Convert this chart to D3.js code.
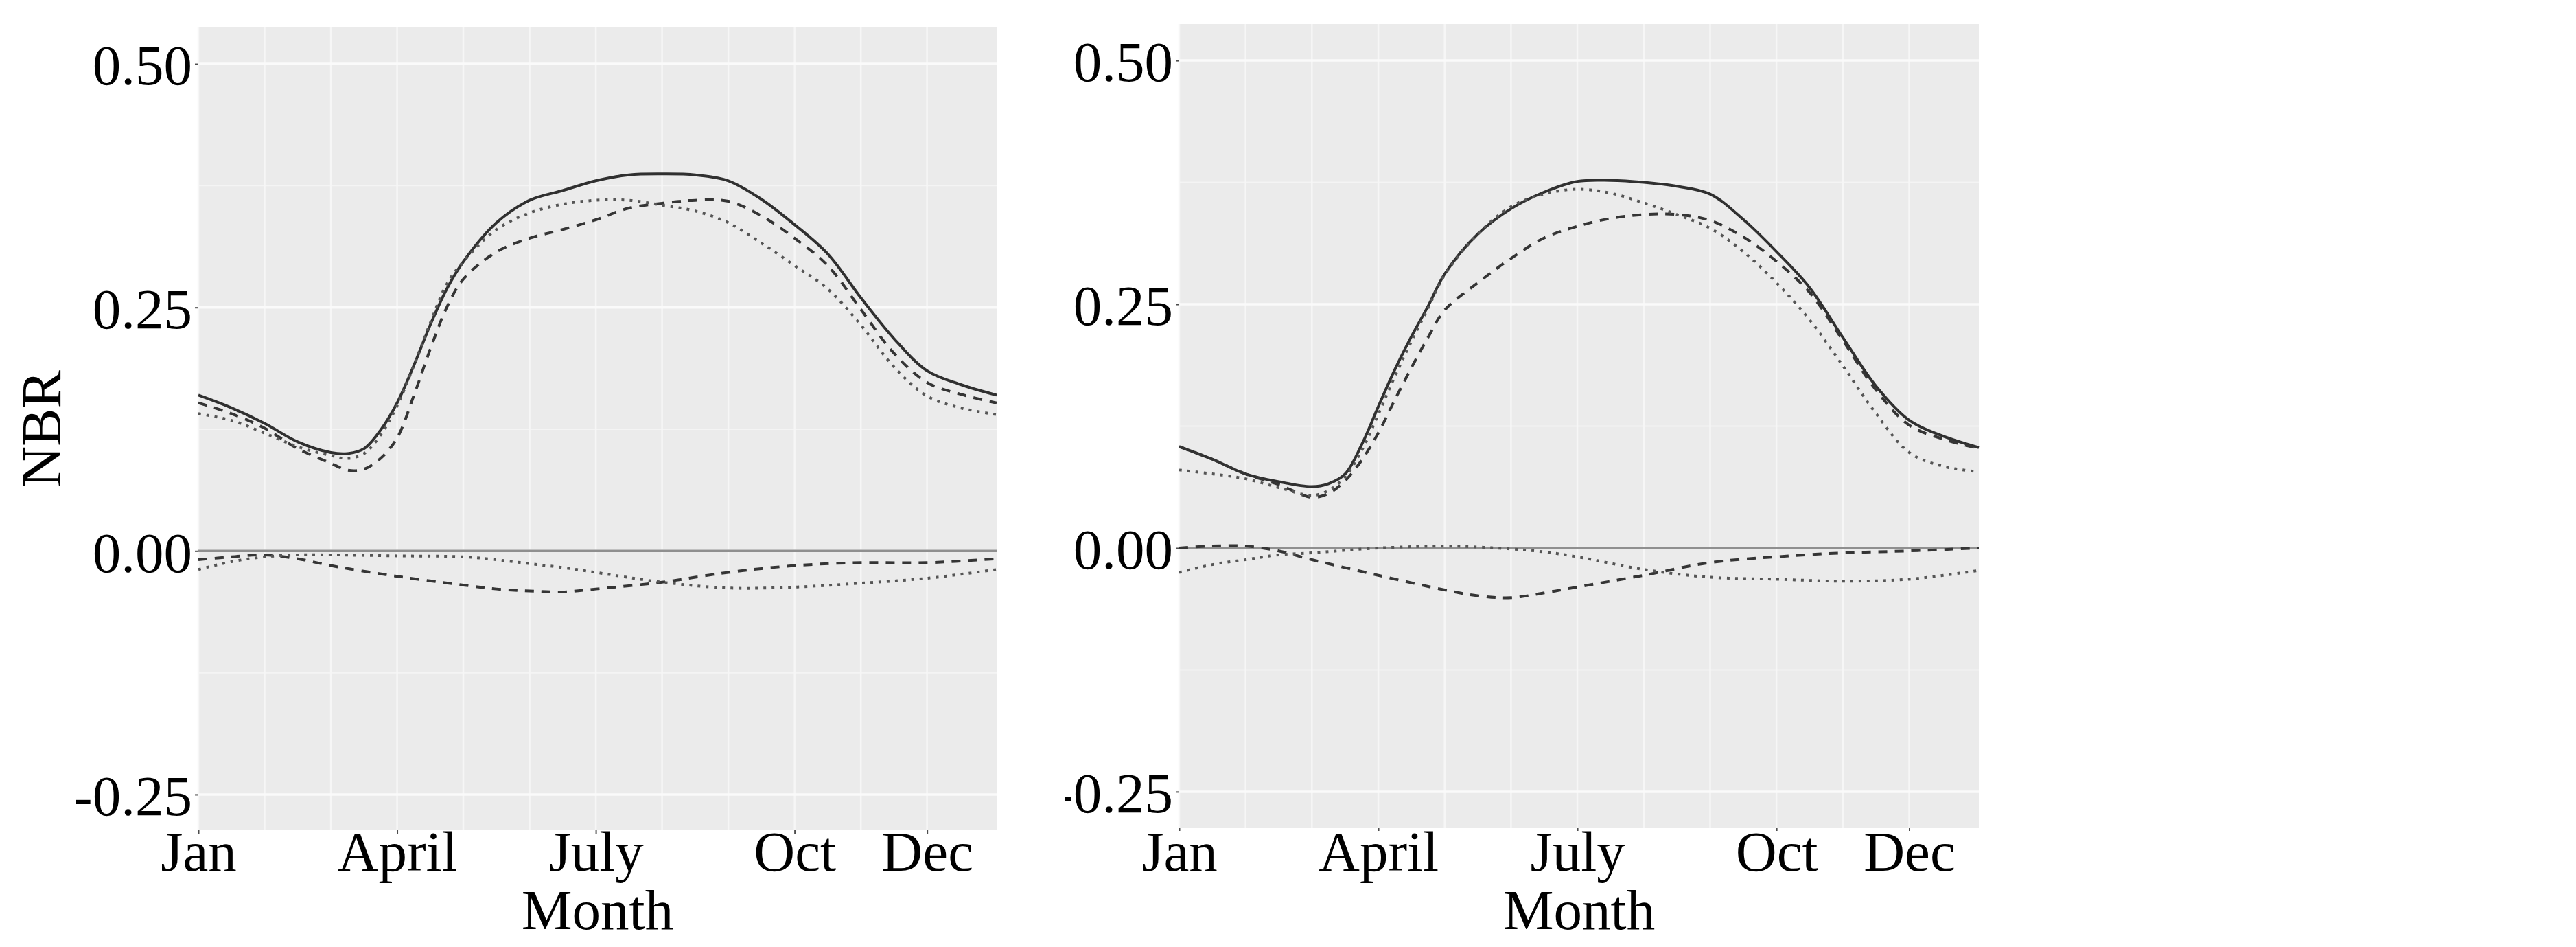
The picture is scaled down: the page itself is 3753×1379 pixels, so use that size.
<!doctype html>
<html>
  <head>
    <meta charset="utf-8">
    <title>NBR by month</title>
    <script src="https://cdnjs.cloudflare.com/ajax/libs/d3/7.8.5/d3.min.js"></script>
    <style>
      body { margin: 0; background: #fff; }
      svg text { font-family: "Liberation Serif", "Times New Roman", serif; fill: #000; }
    </style>
  </head>
  <body>
    <div id="chart"></div>
    <script>
      const months = [1, 1.5, 2, 2.5, 3, 3.25, 3.5, 3.75, 4, 4.25, 4.5, 4.75, 5, 5.5, 6, 6.5,
                      7, 7.5, 8, 8.5, 9, 9.5, 10, 10.5, 11, 11.5, 12, 12.5, 13.05];
      const diffMonths = [1, 1.5, 2, 2.5, 3, 4, 5, 5.5, 6, 6.5, 7, 8, 9, 10, 11, 12, 13.05];

      // left panel
      const leftSolid = [0.160, 0.147, 0.131, 0.112, 0.101, 0.100, 0.105, 0.124, 0.152, 0.190, 0.232, 0.269, 0.297, 0.337, 0.360, 0.370,
                         0.380, 0.386, 0.387, 0.386, 0.380, 0.361, 0.335, 0.305, 0.260, 0.218, 0.185, 0.171, 0.160];
      const leftDashed = [0.152, 0.141, 0.126, 0.105, 0.090, 0.083, 0.084, 0.095, 0.116, 0.159, 0.207, 0.250, 0.279, 0.307, 0.321, 0.330,
                          0.340, 0.352, 0.357, 0.360, 0.359, 0.344, 0.321, 0.293, 0.248, 0.203, 0.173, 0.161, 0.152];
      const leftDotted = [0.141, 0.134, 0.121, 0.107, 0.098, 0.095, 0.100, 0.119, 0.149, 0.190, 0.234, 0.274, 0.297, 0.330, 0.347, 0.356,
                          0.360, 0.360, 0.355, 0.349, 0.337, 0.316, 0.293, 0.269, 0.232, 0.189, 0.159, 0.147, 0.140];
      const leftDashedDiff = [-0.009, -0.006, -0.004, -0.008, -0.015, -0.026, -0.035, -0.039, -0.041, -0.042, -0.039, -0.032, -0.022, -0.015, -0.012, -0.012, -0.008];
      const leftDottedDiff = [-0.019, -0.011, -0.006, -0.004, -0.004, -0.005, -0.006, -0.009, -0.013, -0.017, -0.022, -0.032, -0.038, -0.037, -0.033, -0.028, -0.019];

      // right panel
      const rightSolid = [0.104, 0.091, 0.076, 0.068, 0.063, 0.066, 0.076, 0.106, 0.145, 0.183, 0.217, 0.248, 0.281, 0.322, 0.348, 0.365,
                          0.376, 0.377, 0.375, 0.371, 0.363, 0.337, 0.304, 0.267, 0.216, 0.166, 0.131, 0.115, 0.103];
      const rightDashed = [0.104, 0.091, 0.076, 0.065, 0.052, 0.056, 0.069, 0.090, 0.118, 0.152, 0.185, 0.216, 0.244, 0.272, 0.297, 0.318,
                           0.330, 0.338, 0.342, 0.342, 0.336, 0.319, 0.294, 0.262, 0.213, 0.162, 0.126, 0.112, 0.102];
      const rightDotted = [0.080, 0.076, 0.071, 0.062, 0.054, 0.059, 0.073, 0.100, 0.137, 0.176, 0.212, 0.246, 0.280, 0.322, 0.350, 0.363,
                           0.368, 0.364, 0.354, 0.342, 0.328, 0.304, 0.272, 0.234, 0.187, 0.138, 0.098, 0.084, 0.078];
      const rightDashedDiff = [0.000, 0.002, 0.002, -0.003, -0.012, -0.028, -0.043, -0.049, -0.051, -0.046, -0.040, -0.028, -0.015, -0.009, -0.005, -0.003, 0.000];
      const rightDottedDiff = [-0.025, -0.017, -0.012, -0.007, -0.005, 0.000, 0.002, 0.001, -0.001, -0.004, -0.009, -0.022, -0.030, -0.032, -0.034, -0.032, -0.023];

      // axis stuff
      const monthTicks = [1, 4, 7, 10, 12];
      const monthLabels = ['Jan', 'April', 'July', 'Oct', 'Dec'];
      const monthGrid = [1, 2, 3, 4, 5, 6, 7, 8, 9, 10, 11, 12];
      const yTicks = [-0.25, 0, 0.25, 0.5];
      const yMinor = [-0.125, 0.125, 0.375];

      const W = 3753, H = 1379, fontSize = 83;

      const svg = d3.select('#chart').append('svg')
        .attr('width', W)
        .attr('height', H);

      const panels = [
        { left: 289, right: 1452, top: 40, bottom: 1209, yLabel: true, clipLeft: 0,
          upper: [leftSolid, leftDashed, leftDotted], lower: [leftDashedDiff, leftDottedDiff] },
        { left: 1718, right: 2883, top: 35, bottom: 1205, yLabel: false, clipLeft: 1552,
          upper: [rightSolid, rightDashed, rightDotted], lower: [rightDashedDiff, rightDottedDiff] }
      ];

      // linetypes: solid, dashed, dotted
      const styles = [
        { stroke: '#303030', dash: null },
        { stroke: '#353535', dash: '13,11' },
        { stroke: '#555555', dash: '4,8' }
      ];

      panels.forEach(function(p, k) {
        const x = d3.scaleLinear().domain([1, 13.05]).range([p.left, p.right]);
        const y = d3.scaleLinear().domain([-0.2867, 0.5374]).range([p.bottom, p.top]);

        svg.append('clipPath').attr('id', 'clip' + k)
          .append('rect')
          .attr('x', p.clipLeft).attr('y', 0)
          .attr('width', p.right - p.clipLeft + 20).attr('height', H);

        const g = svg.append('g').attr('clip-path', 'url(#clip' + k + ')');

        // panel background
        g.append('rect')
          .attr('x', p.left).attr('y', p.top)
          .attr('width', p.right - p.left).attr('height', p.bottom - p.top)
          .attr('fill', '#ebebeb');

        // grid
        g.selectAll('.ymin').data(yMinor).join('line')
          .attr('x1', p.left).attr('x2', p.right)
          .attr('y1', d => y(d)).attr('y2', d => y(d))
          .attr('stroke', '#f4f4f4').attr('stroke-width', 2);
        g.selectAll('.xgrid').data(monthGrid).join('line')
          .attr('x1', d => x(d)).attr('x2', d => x(d))
          .attr('y1', p.top).attr('y2', p.bottom)
          .attr('stroke', '#f6f6f6').attr('stroke-width', 2.5);
        g.selectAll('.ymaj').data(yTicks).join('line')
          .attr('x1', p.left).attr('x2', p.right)
          .attr('y1', d => y(d)).attr('y2', d => y(d))
          .attr('stroke', '#fafafa').attr('stroke-width', 3.5);

        // zero reference line
        g.append('line')
          .attr('x1', p.left).attr('x2', p.right)
          .attr('y1', y(0)).attr('y2', y(0))
          .attr('stroke', '#8f8f8f').attr('stroke-width', 3.5);

        const line = d3.line().curve(d3.curveCatmullRom.alpha(0.5));

        p.upper.forEach(function(vals, i) {
          g.append('path')
            .attr('d', line(months.map((m, j) => [x(m), y(vals[j])])))
            .attr('fill', 'none')
            .attr('stroke', styles[i].stroke)
            .attr('stroke-width', 4)
            .attr('stroke-dasharray', styles[i].dash);
        });
        p.lower.forEach(function(vals, i) {
          g.append('path')
            .attr('d', line(diffMonths.map((m, j) => [x(m), y(vals[j])])))
            .attr('fill', 'none')
            .attr('stroke', styles[i + 1].stroke)
            .attr('stroke-width', 4)
            .attr('stroke-dasharray', styles[i + 1].dash);
        });

        // y axis
        const yAxis = g.append('g')
          .attr('transform', 'translate(' + p.left + ',0)')
          .call(d3.axisLeft(y).tickValues(yTicks).tickSize(5).tickPadding(4)
            .tickFormat(d => d.toFixed(2)));
        yAxis.select('.domain').remove();
        yAxis.selectAll('line').attr('stroke', '#4d4d4d').attr('stroke-width', 2);
        yAxis.selectAll('text')
          .attr('font-size', fontSize)
          .attr('font-family', '"Liberation Serif", "Times New Roman", serif')
          .attr('fill', '#000')
          .attr('dy', '0.36em');

        // x axis
        const xAxis = g.append('g')
          .attr('transform', 'translate(0,' + p.bottom + ')')
          .call(d3.axisBottom(x).tickValues(monthTicks).tickSize(5)
            .tickFormat((d, i) => monthLabels[i]));
        xAxis.select('.domain').remove();
        xAxis.selectAll('line').attr('stroke', '#4d4d4d').attr('stroke-width', 2);
        xAxis.selectAll('text')
          .attr('font-size', fontSize)
          .attr('font-family', '"Liberation Serif", "Times New Roman", serif')
          .attr('fill', '#000')
          .attr('y', 1268 - p.bottom)
          .attr('dy', 0);

        // axis titles
        g.append('text')
          .attr('x', (p.left + p.right) / 2)
          .attr('y', 1353)
          .attr('text-anchor', 'middle')
          .attr('font-size', fontSize)
          .text('Month');

        if (p.yLabel) {
          g.append('text')
            .attr('transform', 'translate(88,' + ((p.top + p.bottom) / 2) + ') rotate(-90)')
            .attr('text-anchor', 'middle')
            .attr('font-size', fontSize)
            .text('NBR');
        }
      });
    </script>
  </body>
</html>
